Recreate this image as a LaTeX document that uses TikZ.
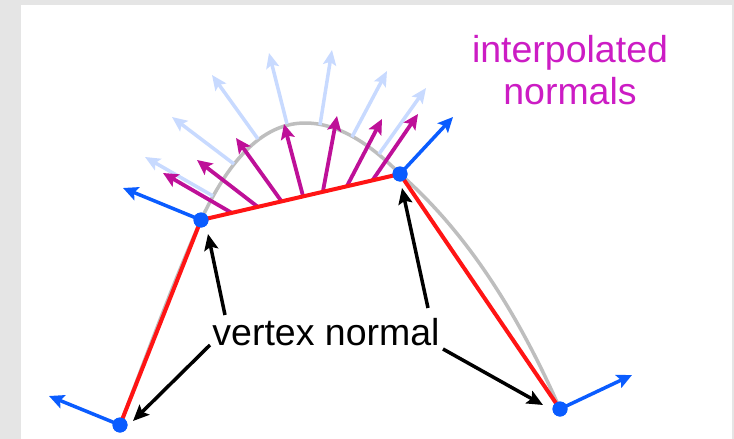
\documentclass[tikz,border=0pt]{standalone}
\usepackage{fontspec}
\setmainfont{Liberation Sans}
\usepackage{xcolor}
\usetikzlibrary{arrows.meta}
\definecolor{panelgray}{HTML}{E5E5E5}
\definecolor{curvegray}{HTML}{BEBEBE}
\definecolor{palenormal}{HTML}{C8DAFF}
\definecolor{interpnormal}{HTML}{BE1098}
\definecolor{interptext}{HTML}{CC1CC4}
\definecolor{vertexblue}{HTML}{0A5CFF}
\definecolor{edgered}{HTML}{FF1414}

\begin{document}
\begin{tikzpicture}[x=1pt,y=-1pt,
  pale/.style={-{Stealth[length=15pt,width=13pt,inset=3pt]},line width=3.5pt,palenormal},
  interp/.style={-{Stealth[length=15pt,width=14pt,inset=3pt]},line width=3.8pt,interpnormal},
  vnormal/.style={-{Stealth[length=15pt,width=14pt,inset=3pt]},line width=3.5pt,vertexblue},
  callout/.style={-{Stealth[length=16pt,width=14pt,inset=3pt]},line width=3.5pt,black},
  vertex/.style={circle,fill=vertexblue,minimum size=15pt,inner sep=0pt},
  edge/.style={line width=4pt,edgered},
  label/.style={font=\fontsize{37.5}{42}\selectfont,align=center,inner sep=0pt}]
  \useasboundingbox (0,0) rectangle (734,439);
  \fill[panelgray] (0,0) rectangle (734,439);
  \fill[white] (21,5) rectangle (732,439);
  % ---- gray curve
  \coordinate (c0) at (120,425);
  \coordinate (c1) at (201,220);
  \coordinate (c2) at (305,123);
  \coordinate (c3) at (400,174);
  \coordinate (c4) at (560,409);
  \draw[curvegray,line width=3.5pt] (c0) .. controls (145,360) and (170,290) .. (c1)
    .. controls (222,175) and (255,123) .. (c2)
    .. controls (340,123) and (372,146) .. (c3)
    .. controls (455,222) and (510,295) .. (c4);
  % ---- pale normals on the curve
  \foreach \n/\bx/\by/\tx/\ty in {1/213/196/145/157,2/234/164/172/117,3/258/139/212/75,4/287/124/269/53,
      5/320/125/332/50,6/352/137/387/71,7/379/154/426/88} {
    \coordinate (pb\n) at (\bx,\by);
    \coordinate (pt\n) at (\tx,\ty);
    \draw[pale] (pb\n) -- (pt\n);
  }
  % ---- interpolated normals on the edge
  \foreach \n/\bx/\by/\tx/\ty in {1/232/213/163/173,2/258/207/197/160,3/282/202/236/138,4/303/196/284/124,
      5/323/191/337/116,6/347/186/382/119,7/372/181/418/114} {
    \coordinate (ib\n) at (\bx,\by);
    \coordinate (it\n) at (\tx,\ty);
    \draw[interp] (ib\n) -- (it\n);
  }
  % ---- vertices
  \node[vertex] (v1) at (120,425) {};
  \node[vertex] (v2) at (201,220) {};
  \node[vertex] (v3) at (400,174) {};
  \node[vertex] (v4) at (560,409) {};
  \draw[edge] (v1.center) -- (v2.center) -- (v3.center) -- (v4.center);
  % ---- vertex normals
  \coordinate (n1) at (49,396);
  \coordinate (n2) at (123,188);
  \coordinate (n3) at (453,117);
  \coordinate (n4) at (632,375);
  \foreach \v/\m in {v1/n1,v2/n2,v3/n3,v4/n4} \draw[vnormal] (\v.center) -- (\m);
  \node[vertex] (d1) at (v1) {};
  \node[vertex] (d2) at (v2) {};
  \node[vertex] (d3) at (v3) {};
  \node[vertex] (d4) at (v4) {};
  % ---- labels
  \node[label,interptext] (lerp) at (570,70) {interpolated\\normals};
  \node[label,anchor=base] (vn) at (326,345) {vertex normal};
  % ---- callouts
  \coordinate (s1) at (225,315);
  \coordinate (s2) at (210,345);
  \coordinate (s3) at (428,308);
  \coordinate (s4) at (443,349);
  \coordinate (e1) at (208,234);
  \coordinate (e2) at (133,421);
  \coordinate (e3) at (402,188);
  \coordinate (e4) at (543,405);
  \foreach \a/\b in {s1/e1,s2/e2,s3/e3,s4/e4} \draw[callout] (\a) -- (\b);
\end{tikzpicture}
\end{document}
